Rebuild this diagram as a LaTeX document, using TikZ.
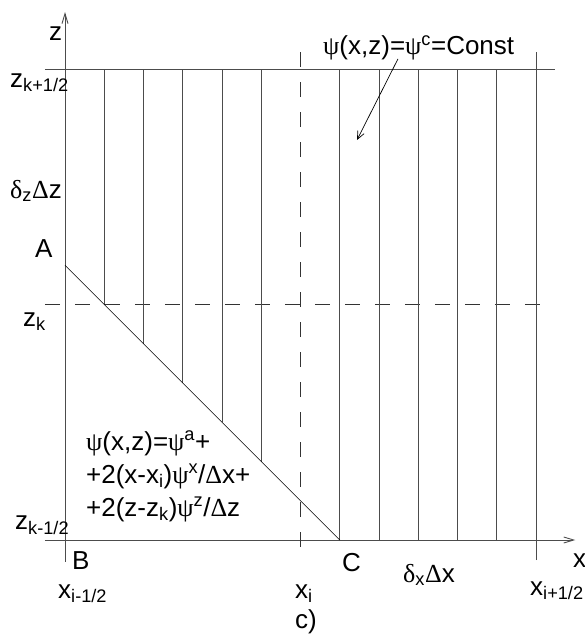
\documentclass[tikz,border=0pt]{standalone}
\usepackage{fontspec}
\setmainfont{Liberation Sans}
\newfontfamily\grk{Liberation Serif}
\usetikzlibrary{arrows.meta, calc}

\newcommand{\gr}[1]{{\grk #1}}

\begin{document}
\begin{tikzpicture}[
    x=39.25pt, y=39.25pt,
    gridline/.style={draw=black!70, line width=0.9pt},
    dashline/.style={draw=black!80, line width=0.8pt, dash pattern=on 15pt off 15pt},
    axis/.style={draw=black!70, line width=0.9pt, -{Straight Barb[length=10pt, width=6pt]}},
    lbl/.style={font=\fontsize{26}{30}\selectfont, inner sep=0pt, anchor=base west},
]
    \useasboundingbox (-1.656,-2.522) rectangle (13.248,13.758);

    % corner points of the cell
    \coordinate (B) at (0,0);
    \coordinate (A) at (0,7);
    \coordinate (C) at (7,0);

    % axes
    \draw[axis] (0,-0.56) -- (0,13.45);
    \draw[axis] (-0.51,0) -- (13.0,0);

    % top boundary z_{k+1/2}
    \draw[gridline] (-0.51,12) -- (12.48,12);

    % dashed lines through x_i and z_k
    \draw[dashline] (-0.51,6) -- (12.48,6);
    \draw[dashline] (6,12.43) -- (6,-0.56);

    % right boundary x_{i+1/2}
    \draw[gridline] (12,-0.51) -- (12,12.43);

    % hatching above the front AC
    \draw[gridline] (1,6) -- (1,12);
    \draw[gridline] (2,5) -- (2,12);
    \draw[gridline] (3,4) -- (3,12);
    \draw[gridline] (4,3) -- (4,12);
    \draw[gridline] (5,2) -- (5,12);
    \draw[gridline] (C) -- (7,12);
    \draw[gridline] (8,0) -- (8,12);
    \draw[gridline] (9,0) -- (9,12);
    \draw[gridline] (10,0) -- (10,12);
    \draw[gridline] (11,0) -- (11,12);

    % front
    \draw[line width=0.7pt] (A) -- (C);

    % axis labels
    \node[lbl] (zlab) at (-0.408,12.72) {z};
    \node[lbl] (xlab) at (12.943,-0.688) {x};
    \node[lbl] (ztop) at (-1.401,11.541) {z\textsubscript{k+1/2}};
    \node[lbl] (dz) at (-1.401,8.713) {\gr{δ}\textsubscript{z}\gr{Δ}z};
    \node[lbl] (zk) at (-1.070,5.452) {z\textsubscript{k}};
    \node[lbl] (zbot) at (-1.274,0.255) {z\textsubscript{k-1/2}};
    \node[lbl] (xleft) at (-0.178,-1.478) {x\textsubscript{i-1/2}};
    \node[lbl] (xi) at (5.860,-1.478) {x\textsubscript{i}};
    \node[lbl] (xright) at (11.847,-1.401) {x\textsubscript{i+1/2}};
    \node[lbl] (dx) at (8.611,-1.070) {\gr{δ}\textsubscript{x}\gr{Δ}x};

    % point labels
    \node[lbl] (Alab) at (-0.764,7.185) {A};
    \node[lbl] (Blab) at (0.178,-0.764) {B};
    \node[lbl] (Clab) at (7.057,-0.815) {C};

    % constant region
    \node[lbl] (const) at (6.573,12.357) {\gr{ψ}(x,z)=\gr{ψ}\textsuperscript{c}=Const};
    \coordinate (cpt) at (7.439,10.191);
    \draw[line width=0.7pt, -{Straight Barb[length=8pt, width=7pt]}] ($(const.base west)+(1.91,-0.1)$) -- (cpt);

    % linear region
    \node[lbl] (lin1) at (0.535,2.293) {\gr{ψ}(x,z)=\gr{ψ}\textsuperscript{a}+};
    \node[lbl] (lin2) at (0.535,1.452) {+2(x-x\textsubscript{i})\gr{ψ}\textsuperscript{x}/\gr{Δ}x+};
    \node[lbl] (lin3) at (0.535,0.611) {+2(z-z\textsubscript{k})\gr{ψ}\textsuperscript{z}/\gr{Δ}z};

    % caption
    \node[lbl] (cap) at (5.860,-2.242) {c)};
\end{tikzpicture}
\end{document}
